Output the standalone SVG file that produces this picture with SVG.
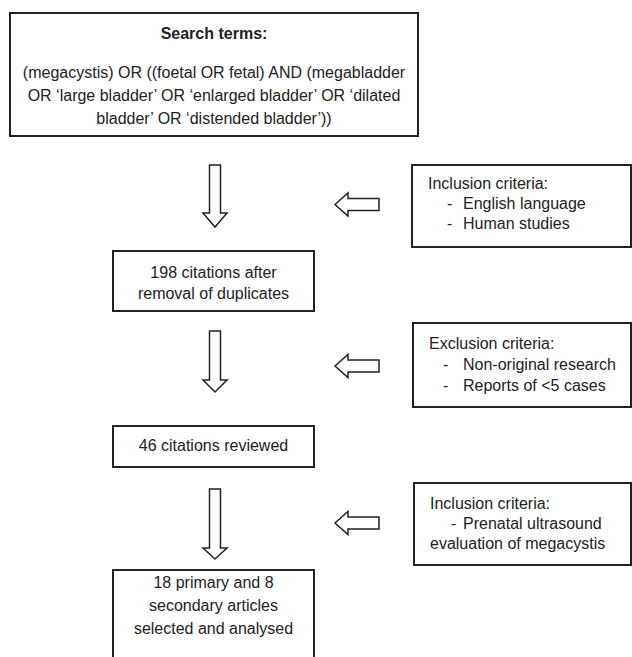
<svg xmlns="http://www.w3.org/2000/svg" width="632" height="657" viewBox="0 0 632 657">
<style>
.box{fill:#fff;stroke:#222;stroke-width:2}
.arr{fill:#fff;stroke:#222;stroke-width:1.5;stroke-linejoin:miter}
text{font-family:"Liberation Sans",Arial,sans-serif;font-size:16px;fill:#222}
.c{text-anchor:middle}
.b{font-weight:bold}
</style>
<rect width="632" height="657" fill="#fff"/>
<g id="search">
<rect class="box" x="10" y="13" width="408" height="123"/>
<text class="c b" x="214" y="38.5">Search terms:</text>
<text class="c" x="214" y="77.5">(megacystis) OR ((foetal OR fetal) AND (megabladder</text>
<text class="c" x="214" y="100.5">OR ‘large bladder’ OR ‘enlarged bladder’ OR ‘dilated</text>
<text class="c" x="214" y="123.5">bladder’ OR ‘distended bladder’))</text>
</g>
<g id="citations198">
<rect class="box" x="113" y="251" width="201" height="60"/>
<text class="c" x="213.5" y="277.5">198 citations after</text>
<text class="c" x="213.5" y="298.5">removal of duplicates</text>
</g>
<g id="citations46">
<rect class="box" x="113" y="426" width="201" height="41"/>
<text class="c" x="213.5" y="451">46 citations reviewed</text>
</g>
<g id="selected">
<rect class="box" x="113" y="570" width="201" height="100"/>
<text class="c" x="213.5" y="587.5">18 primary and 8</text>
<text class="c" x="213.5" y="610.5">secondary articles</text>
<text class="c" x="213.5" y="634">selected and analysed</text>
</g>
<g id="inclusion1">
<rect class="box" x="412" y="165" width="219" height="82"/>
<text x="428" y="188.5">Inclusion criteria:</text>
<text x="447" y="209">-</text><text x="463" y="209">English language</text>
<text x="447" y="229">-</text><text x="463" y="229">Human studies</text>
</g>
<g id="exclusion">
<rect class="box" x="413" y="323" width="218" height="84"/>
<text x="429" y="348.5">Exclusion criteria:</text>
<text x="443" y="369.5">-</text><text x="463" y="369.5">Non-original research</text>
<text x="443" y="390.5">-</text><text x="463" y="390.5">Reports of &lt;5 cases</text>
</g>
<g id="inclusion2">
<rect class="box" x="414" y="483" width="217" height="82"/>
<text x="430" y="508.5">Inclusion criteria:</text>
<text x="451" y="528.5">-</text><text x="463" y="528.5">Prenatal ultrasound</text>
<text x="430" y="548.5">evaluation of megacystis</text>
</g>
<g id="connectors">
<path class="arr" d="M209.5,165 H220.5 V213 H227 L215,227 L203,213 H209.5 Z"/>
<path class="arr" d="M209.5,331 H220.5 V380 H227 L215,392 L203,380 H209.5 Z"/>
<path class="arr" d="M209.5,489 H220.5 V548 H227 L215,559 L203,548 H209.5 Z"/>
<path class="arr" d="M335,204.5 L348,193 V198.5 H379 V210.5 H348 V216 Z"/>
<path class="arr" d="M335,366 L348,354.5 V360 H379 V372 H348 V377.5 Z"/>
<path class="arr" d="M335,523 L348,511.5 V517 H379 V529 H348 V534.5 Z"/>
</g>
</svg>
